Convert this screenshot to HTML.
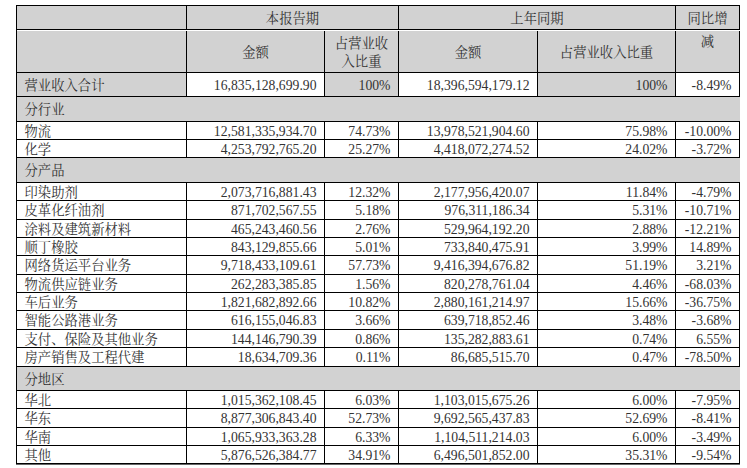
<!DOCTYPE html>
<html lang="zh-CN"><head><meta charset="utf-8"><title>营业收入构成</title>
<style>
html,body{margin:0;padding:0;background:#fff}
#p{position:relative;width:747px;height:468px;overflow:hidden;background:#fff;color:#333;
font-family:"Liberation Serif","Noto Serif CJK SC",serif;font-size:13.33px;line-height:18px}
.r{position:absolute}
.t{position:absolute;display:flex;align-items:center;white-space:nowrap;box-sizing:border-box}
.c{justify-content:center;text-align:center;letter-spacing:0}
.l{justify-content:flex-start;padding-left:7.5px}
.n{justify-content:flex-end;padding-right:7.5px;font-size:13.7px}
</style></head><body><div id="p">
<div class="r" style="left:16px;top:5px;width:724px;height:67px;background:#d2d2d2"></div>
<div class="r" style="left:16px;top:72px;width:170px;height:24px;background:#d2d2d2"></div>
<div class="r" style="left:324px;top:72px;width:74px;height:24px;background:#d2d2d2"></div>
<div class="r" style="left:537px;top:72px;width:138px;height:24px;background:#d2d2d2"></div>
<div class="r" style="left:16px;top:96px;width:724px;height:25px;background:#d2d2d2"></div>
<div class="r" style="left:16px;top:121px;width:170px;height:18px;background:#fff"></div>
<div class="r" style="left:16px;top:139px;width:170px;height:18px;background:#fff"></div>
<div class="r" style="left:16px;top:157px;width:724px;height:25px;background:#d2d2d2"></div>
<div class="r" style="left:16px;top:182px;width:170px;height:18px;background:#fff"></div>
<div class="r" style="left:16px;top:200px;width:170px;height:19px;background:#fff"></div>
<div class="r" style="left:16px;top:219px;width:170px;height:18px;background:#fff"></div>
<div class="r" style="left:16px;top:237px;width:170px;height:18px;background:#fff"></div>
<div class="r" style="left:16px;top:255px;width:170px;height:19px;background:#fff"></div>
<div class="r" style="left:16px;top:274px;width:170px;height:18px;background:#fff"></div>
<div class="r" style="left:16px;top:292px;width:170px;height:18px;background:#fff"></div>
<div class="r" style="left:16px;top:310px;width:170px;height:19px;background:#fff"></div>
<div class="r" style="left:16px;top:329px;width:170px;height:18px;background:#fff"></div>
<div class="r" style="left:16px;top:347px;width:170px;height:19px;background:#fff"></div>
<div class="r" style="left:16px;top:366px;width:724px;height:24px;background:#d2d2d2"></div>
<div class="r" style="left:16px;top:390px;width:170px;height:18px;background:#fff"></div>
<div class="r" style="left:16px;top:408px;width:170px;height:19px;background:#fff"></div>
<div class="r" style="left:16px;top:427px;width:170px;height:18px;background:#fff"></div>
<div class="r" style="left:16px;top:445px;width:170px;height:18px;background:#fff"></div>
<div class="r" style="left:16px;top:5px;width:724px;height:1px;background:#000"></div>
<div class="r" style="left:16px;top:29px;width:724px;height:1px;background:#000"></div>
<div class="r" style="left:16px;top:72px;width:724px;height:1px;background:#000"></div>
<div class="r" style="left:16px;top:96px;width:724px;height:1px;background:#000"></div>
<div class="r" style="left:16px;top:121px;width:724px;height:1px;background:#000"></div>
<div class="r" style="left:16px;top:139px;width:724px;height:1px;background:#000"></div>
<div class="r" style="left:16px;top:157px;width:724px;height:1px;background:#000"></div>
<div class="r" style="left:16px;top:182px;width:724px;height:1px;background:#000"></div>
<div class="r" style="left:16px;top:200px;width:724px;height:1px;background:#000"></div>
<div class="r" style="left:16px;top:219px;width:724px;height:1px;background:#000"></div>
<div class="r" style="left:16px;top:237px;width:724px;height:1px;background:#000"></div>
<div class="r" style="left:16px;top:255px;width:724px;height:1px;background:#000"></div>
<div class="r" style="left:16px;top:274px;width:724px;height:1px;background:#000"></div>
<div class="r" style="left:16px;top:292px;width:724px;height:1px;background:#000"></div>
<div class="r" style="left:16px;top:310px;width:724px;height:1px;background:#000"></div>
<div class="r" style="left:16px;top:329px;width:724px;height:1px;background:#000"></div>
<div class="r" style="left:16px;top:347px;width:724px;height:1px;background:#000"></div>
<div class="r" style="left:16px;top:366px;width:724px;height:1px;background:#000"></div>
<div class="r" style="left:16px;top:390px;width:724px;height:1px;background:#000"></div>
<div class="r" style="left:16px;top:408px;width:724px;height:1px;background:#000"></div>
<div class="r" style="left:16px;top:427px;width:724px;height:1px;background:#000"></div>
<div class="r" style="left:16px;top:445px;width:724px;height:1px;background:#000"></div>
<div class="r" style="left:16px;top:463px;width:724px;height:1px;background:#000"></div>
<div class="r" style="left:16px;top:464px;width:724px;height:1px;background:#666"></div>
<div class="r" style="left:16px;top:30px;width:724px;height:1px;background:#fff"></div>
<div class="r" style="left:16px;top:5px;width:1px;height:459px;background:#000"></div>
<div class="r" style="left:186px;top:5px;width:1px;height:25px;background:#000"></div>
<div class="r" style="left:398px;top:5px;width:1px;height:25px;background:#000"></div>
<div class="r" style="left:675px;top:5px;width:1px;height:25px;background:#000"></div>
<div class="r" style="left:739px;top:5px;width:1px;height:25px;background:#000"></div>
<div class="r" style="left:16px;top:31px;width:1px;height:41px;background:#000"></div>
<div class="r" style="left:186px;top:31px;width:1px;height:41px;background:#000"></div>
<div class="r" style="left:324px;top:31px;width:1px;height:41px;background:#000"></div>
<div class="r" style="left:398px;top:31px;width:1px;height:41px;background:#000"></div>
<div class="r" style="left:537px;top:31px;width:1px;height:41px;background:#000"></div>
<div class="r" style="left:675px;top:31px;width:1px;height:41px;background:#000"></div>
<div class="r" style="left:739px;top:31px;width:1px;height:41px;background:#000"></div>
<div class="r" style="left:186px;top:72px;width:1px;height:25px;background:#000"></div>
<div class="r" style="left:324px;top:72px;width:1px;height:25px;background:#000"></div>
<div class="r" style="left:398px;top:72px;width:1px;height:25px;background:#000"></div>
<div class="r" style="left:537px;top:72px;width:1px;height:25px;background:#000"></div>
<div class="r" style="left:675px;top:72px;width:1px;height:25px;background:#000"></div>
<div class="r" style="left:739px;top:72px;width:1px;height:25px;background:#000"></div>
<div class="r" style="left:186px;top:121px;width:1px;height:19px;background:#000"></div>
<div class="r" style="left:324px;top:121px;width:1px;height:19px;background:#000"></div>
<div class="r" style="left:398px;top:121px;width:1px;height:19px;background:#000"></div>
<div class="r" style="left:537px;top:121px;width:1px;height:19px;background:#000"></div>
<div class="r" style="left:675px;top:121px;width:1px;height:19px;background:#000"></div>
<div class="r" style="left:739px;top:121px;width:1px;height:19px;background:#000"></div>
<div class="r" style="left:186px;top:139px;width:1px;height:19px;background:#000"></div>
<div class="r" style="left:324px;top:139px;width:1px;height:19px;background:#000"></div>
<div class="r" style="left:398px;top:139px;width:1px;height:19px;background:#000"></div>
<div class="r" style="left:537px;top:139px;width:1px;height:19px;background:#000"></div>
<div class="r" style="left:675px;top:139px;width:1px;height:19px;background:#000"></div>
<div class="r" style="left:739px;top:139px;width:1px;height:19px;background:#000"></div>
<div class="r" style="left:186px;top:182px;width:1px;height:19px;background:#000"></div>
<div class="r" style="left:324px;top:182px;width:1px;height:19px;background:#000"></div>
<div class="r" style="left:398px;top:182px;width:1px;height:19px;background:#000"></div>
<div class="r" style="left:537px;top:182px;width:1px;height:19px;background:#000"></div>
<div class="r" style="left:675px;top:182px;width:1px;height:19px;background:#000"></div>
<div class="r" style="left:739px;top:182px;width:1px;height:19px;background:#000"></div>
<div class="r" style="left:186px;top:200px;width:1px;height:20px;background:#000"></div>
<div class="r" style="left:324px;top:200px;width:1px;height:20px;background:#000"></div>
<div class="r" style="left:398px;top:200px;width:1px;height:20px;background:#000"></div>
<div class="r" style="left:537px;top:200px;width:1px;height:20px;background:#000"></div>
<div class="r" style="left:675px;top:200px;width:1px;height:20px;background:#000"></div>
<div class="r" style="left:739px;top:200px;width:1px;height:20px;background:#000"></div>
<div class="r" style="left:186px;top:219px;width:1px;height:19px;background:#000"></div>
<div class="r" style="left:324px;top:219px;width:1px;height:19px;background:#000"></div>
<div class="r" style="left:398px;top:219px;width:1px;height:19px;background:#000"></div>
<div class="r" style="left:537px;top:219px;width:1px;height:19px;background:#000"></div>
<div class="r" style="left:675px;top:219px;width:1px;height:19px;background:#000"></div>
<div class="r" style="left:739px;top:219px;width:1px;height:19px;background:#000"></div>
<div class="r" style="left:186px;top:237px;width:1px;height:19px;background:#000"></div>
<div class="r" style="left:324px;top:237px;width:1px;height:19px;background:#000"></div>
<div class="r" style="left:398px;top:237px;width:1px;height:19px;background:#000"></div>
<div class="r" style="left:537px;top:237px;width:1px;height:19px;background:#000"></div>
<div class="r" style="left:675px;top:237px;width:1px;height:19px;background:#000"></div>
<div class="r" style="left:739px;top:237px;width:1px;height:19px;background:#000"></div>
<div class="r" style="left:186px;top:255px;width:1px;height:20px;background:#000"></div>
<div class="r" style="left:324px;top:255px;width:1px;height:20px;background:#000"></div>
<div class="r" style="left:398px;top:255px;width:1px;height:20px;background:#000"></div>
<div class="r" style="left:537px;top:255px;width:1px;height:20px;background:#000"></div>
<div class="r" style="left:675px;top:255px;width:1px;height:20px;background:#000"></div>
<div class="r" style="left:739px;top:255px;width:1px;height:20px;background:#000"></div>
<div class="r" style="left:186px;top:274px;width:1px;height:19px;background:#000"></div>
<div class="r" style="left:324px;top:274px;width:1px;height:19px;background:#000"></div>
<div class="r" style="left:398px;top:274px;width:1px;height:19px;background:#000"></div>
<div class="r" style="left:537px;top:274px;width:1px;height:19px;background:#000"></div>
<div class="r" style="left:675px;top:274px;width:1px;height:19px;background:#000"></div>
<div class="r" style="left:739px;top:274px;width:1px;height:19px;background:#000"></div>
<div class="r" style="left:186px;top:292px;width:1px;height:19px;background:#000"></div>
<div class="r" style="left:324px;top:292px;width:1px;height:19px;background:#000"></div>
<div class="r" style="left:398px;top:292px;width:1px;height:19px;background:#000"></div>
<div class="r" style="left:537px;top:292px;width:1px;height:19px;background:#000"></div>
<div class="r" style="left:675px;top:292px;width:1px;height:19px;background:#000"></div>
<div class="r" style="left:739px;top:292px;width:1px;height:19px;background:#000"></div>
<div class="r" style="left:186px;top:310px;width:1px;height:20px;background:#000"></div>
<div class="r" style="left:324px;top:310px;width:1px;height:20px;background:#000"></div>
<div class="r" style="left:398px;top:310px;width:1px;height:20px;background:#000"></div>
<div class="r" style="left:537px;top:310px;width:1px;height:20px;background:#000"></div>
<div class="r" style="left:675px;top:310px;width:1px;height:20px;background:#000"></div>
<div class="r" style="left:739px;top:310px;width:1px;height:20px;background:#000"></div>
<div class="r" style="left:186px;top:329px;width:1px;height:19px;background:#000"></div>
<div class="r" style="left:324px;top:329px;width:1px;height:19px;background:#000"></div>
<div class="r" style="left:398px;top:329px;width:1px;height:19px;background:#000"></div>
<div class="r" style="left:537px;top:329px;width:1px;height:19px;background:#000"></div>
<div class="r" style="left:675px;top:329px;width:1px;height:19px;background:#000"></div>
<div class="r" style="left:739px;top:329px;width:1px;height:19px;background:#000"></div>
<div class="r" style="left:186px;top:347px;width:1px;height:20px;background:#000"></div>
<div class="r" style="left:324px;top:347px;width:1px;height:20px;background:#000"></div>
<div class="r" style="left:398px;top:347px;width:1px;height:20px;background:#000"></div>
<div class="r" style="left:537px;top:347px;width:1px;height:20px;background:#000"></div>
<div class="r" style="left:675px;top:347px;width:1px;height:20px;background:#000"></div>
<div class="r" style="left:739px;top:347px;width:1px;height:20px;background:#000"></div>
<div class="r" style="left:186px;top:390px;width:1px;height:19px;background:#000"></div>
<div class="r" style="left:324px;top:390px;width:1px;height:19px;background:#000"></div>
<div class="r" style="left:398px;top:390px;width:1px;height:19px;background:#000"></div>
<div class="r" style="left:537px;top:390px;width:1px;height:19px;background:#000"></div>
<div class="r" style="left:675px;top:390px;width:1px;height:19px;background:#000"></div>
<div class="r" style="left:739px;top:390px;width:1px;height:19px;background:#000"></div>
<div class="r" style="left:186px;top:408px;width:1px;height:20px;background:#000"></div>
<div class="r" style="left:324px;top:408px;width:1px;height:20px;background:#000"></div>
<div class="r" style="left:398px;top:408px;width:1px;height:20px;background:#000"></div>
<div class="r" style="left:537px;top:408px;width:1px;height:20px;background:#000"></div>
<div class="r" style="left:675px;top:408px;width:1px;height:20px;background:#000"></div>
<div class="r" style="left:739px;top:408px;width:1px;height:20px;background:#000"></div>
<div class="r" style="left:186px;top:427px;width:1px;height:19px;background:#000"></div>
<div class="r" style="left:324px;top:427px;width:1px;height:19px;background:#000"></div>
<div class="r" style="left:398px;top:427px;width:1px;height:19px;background:#000"></div>
<div class="r" style="left:537px;top:427px;width:1px;height:19px;background:#000"></div>
<div class="r" style="left:675px;top:427px;width:1px;height:19px;background:#000"></div>
<div class="r" style="left:739px;top:427px;width:1px;height:19px;background:#000"></div>
<div class="r" style="left:186px;top:445px;width:1px;height:19px;background:#000"></div>
<div class="r" style="left:324px;top:445px;width:1px;height:19px;background:#000"></div>
<div class="r" style="left:398px;top:445px;width:1px;height:19px;background:#000"></div>
<div class="r" style="left:537px;top:445px;width:1px;height:19px;background:#000"></div>
<div class="r" style="left:675px;top:445px;width:1px;height:19px;background:#000"></div>
<div class="r" style="left:739px;top:445px;width:1px;height:19px;background:#000"></div>
<div class="t c" style="left:187px;top:7.5px;width:211px;height:23px"><span>本报告期</span></div>
<div class="t c" style="left:399px;top:7.5px;width:276px;height:23px"><span>上年同期</span></div>
<div class="t c" style="left:676px;top:7.5px;width:63px;height:23px"><span>同比增</span></div>
<div class="t c" style="left:187px;top:32px;width:137px;height:41px"><span>金额</span></div>
<div class="t c" style="left:325px;top:32px;width:73px;height:41px"><span>占营业收<br>入比重</span></div>
<div class="t c" style="left:399px;top:32px;width:138px;height:41px"><span>金额</span></div>
<div class="t c" style="left:538px;top:32px;width:137px;height:41px"><span>占营业收入比重</span></div>
<div class="t c" style="left:676px;top:32px;width:63px;height:20px"><span>减</span></div>
<div class="t l" style="left:17px;top:74px;width:169px;height:23px"><span>营业收入合计</span></div>
<div class="t n" style="left:187px;top:74px;width:137px;height:23px"><span>16,835,128,699.90</span></div>
<div class="t n" style="left:325px;top:74px;width:73px;height:23px"><span>100%</span></div>
<div class="t n" style="left:399px;top:74px;width:138px;height:23px"><span>18,396,594,179.12</span></div>
<div class="t n" style="left:538px;top:74px;width:137px;height:23px"><span>100%</span></div>
<div class="t n" style="left:676px;top:74px;width:63px;height:23px"><span>-8.49%</span></div>
<div class="t l" style="left:17px;top:98px;width:169px;height:24px"><span>分行业</span></div>
<div class="t l" style="left:17px;top:123px;width:169px;height:17px"><span>物流</span></div>
<div class="t n" style="left:187px;top:123px;width:137px;height:17px"><span>12,581,335,934.70</span></div>
<div class="t n" style="left:325px;top:123px;width:73px;height:17px"><span>74.73%</span></div>
<div class="t n" style="left:399px;top:123px;width:138px;height:17px"><span>13,978,521,904.60</span></div>
<div class="t n" style="left:538px;top:123px;width:137px;height:17px"><span>75.98%</span></div>
<div class="t n" style="left:676px;top:123px;width:63px;height:17px"><span>-10.00%</span></div>
<div class="t l" style="left:17px;top:141px;width:169px;height:17px"><span>化学</span></div>
<div class="t n" style="left:187px;top:141px;width:137px;height:17px"><span>4,253,792,765.20</span></div>
<div class="t n" style="left:325px;top:141px;width:73px;height:17px"><span>25.27%</span></div>
<div class="t n" style="left:399px;top:141px;width:138px;height:17px"><span>4,418,072,274.52</span></div>
<div class="t n" style="left:538px;top:141px;width:137px;height:17px"><span>24.02%</span></div>
<div class="t n" style="left:676px;top:141px;width:63px;height:17px"><span>-3.72%</span></div>
<div class="t l" style="left:17px;top:159px;width:169px;height:24px"><span>分产品</span></div>
<div class="t l" style="left:17px;top:184px;width:169px;height:17px"><span>印染助剂</span></div>
<div class="t n" style="left:187px;top:184px;width:137px;height:17px"><span>2,073,716,881.43</span></div>
<div class="t n" style="left:325px;top:184px;width:73px;height:17px"><span>12.32%</span></div>
<div class="t n" style="left:399px;top:184px;width:138px;height:17px"><span>2,177,956,420.07</span></div>
<div class="t n" style="left:538px;top:184px;width:137px;height:17px"><span>11.84%</span></div>
<div class="t n" style="left:676px;top:184px;width:63px;height:17px"><span>-4.79%</span></div>
<div class="t l" style="left:17px;top:202px;width:169px;height:18px"><span>皮革化纤油剂</span></div>
<div class="t n" style="left:187px;top:202px;width:137px;height:18px"><span>871,702,567.55</span></div>
<div class="t n" style="left:325px;top:202px;width:73px;height:18px"><span>5.18%</span></div>
<div class="t n" style="left:399px;top:202px;width:138px;height:18px"><span>976,311,186.34</span></div>
<div class="t n" style="left:538px;top:202px;width:137px;height:18px"><span>5.31%</span></div>
<div class="t n" style="left:676px;top:202px;width:63px;height:18px"><span>-10.71%</span></div>
<div class="t l" style="left:17px;top:221px;width:169px;height:17px"><span>涂料及建筑新材料</span></div>
<div class="t n" style="left:187px;top:221px;width:137px;height:17px"><span>465,243,460.56</span></div>
<div class="t n" style="left:325px;top:221px;width:73px;height:17px"><span>2.76%</span></div>
<div class="t n" style="left:399px;top:221px;width:138px;height:17px"><span>529,964,192.20</span></div>
<div class="t n" style="left:538px;top:221px;width:137px;height:17px"><span>2.88%</span></div>
<div class="t n" style="left:676px;top:221px;width:63px;height:17px"><span>-12.21%</span></div>
<div class="t l" style="left:17px;top:239px;width:169px;height:17px"><span>顺丁橡胶</span></div>
<div class="t n" style="left:187px;top:239px;width:137px;height:17px"><span>843,129,855.66</span></div>
<div class="t n" style="left:325px;top:239px;width:73px;height:17px"><span>5.01%</span></div>
<div class="t n" style="left:399px;top:239px;width:138px;height:17px"><span>733,840,475.91</span></div>
<div class="t n" style="left:538px;top:239px;width:137px;height:17px"><span>3.99%</span></div>
<div class="t n" style="left:676px;top:239px;width:63px;height:17px"><span>14.89%</span></div>
<div class="t l" style="left:17px;top:257px;width:169px;height:18px"><span>网络货运平台业务</span></div>
<div class="t n" style="left:187px;top:257px;width:137px;height:18px"><span>9,718,433,109.61</span></div>
<div class="t n" style="left:325px;top:257px;width:73px;height:18px"><span>57.73%</span></div>
<div class="t n" style="left:399px;top:257px;width:138px;height:18px"><span>9,416,394,676.82</span></div>
<div class="t n" style="left:538px;top:257px;width:137px;height:18px"><span>51.19%</span></div>
<div class="t n" style="left:676px;top:257px;width:63px;height:18px"><span>3.21%</span></div>
<div class="t l" style="left:17px;top:276px;width:169px;height:17px"><span>物流供应链业务</span></div>
<div class="t n" style="left:187px;top:276px;width:137px;height:17px"><span>262,283,385.85</span></div>
<div class="t n" style="left:325px;top:276px;width:73px;height:17px"><span>1.56%</span></div>
<div class="t n" style="left:399px;top:276px;width:138px;height:17px"><span>820,278,761.04</span></div>
<div class="t n" style="left:538px;top:276px;width:137px;height:17px"><span>4.46%</span></div>
<div class="t n" style="left:676px;top:276px;width:63px;height:17px"><span>-68.03%</span></div>
<div class="t l" style="left:17px;top:294px;width:169px;height:17px"><span>车后业务</span></div>
<div class="t n" style="left:187px;top:294px;width:137px;height:17px"><span>1,821,682,892.66</span></div>
<div class="t n" style="left:325px;top:294px;width:73px;height:17px"><span>10.82%</span></div>
<div class="t n" style="left:399px;top:294px;width:138px;height:17px"><span>2,880,161,214.97</span></div>
<div class="t n" style="left:538px;top:294px;width:137px;height:17px"><span>15.66%</span></div>
<div class="t n" style="left:676px;top:294px;width:63px;height:17px"><span>-36.75%</span></div>
<div class="t l" style="left:17px;top:312px;width:169px;height:18px"><span>智能公路港业务</span></div>
<div class="t n" style="left:187px;top:312px;width:137px;height:18px"><span>616,155,046.83</span></div>
<div class="t n" style="left:325px;top:312px;width:73px;height:18px"><span>3.66%</span></div>
<div class="t n" style="left:399px;top:312px;width:138px;height:18px"><span>639,718,852.46</span></div>
<div class="t n" style="left:538px;top:312px;width:137px;height:18px"><span>3.48%</span></div>
<div class="t n" style="left:676px;top:312px;width:63px;height:18px"><span>-3.68%</span></div>
<div class="t l" style="left:17px;top:331px;width:169px;height:17px"><span>支付、保险及其他业务</span></div>
<div class="t n" style="left:187px;top:331px;width:137px;height:17px"><span>144,146,790.39</span></div>
<div class="t n" style="left:325px;top:331px;width:73px;height:17px"><span>0.86%</span></div>
<div class="t n" style="left:399px;top:331px;width:138px;height:17px"><span>135,282,883.61</span></div>
<div class="t n" style="left:538px;top:331px;width:137px;height:17px"><span>0.74%</span></div>
<div class="t n" style="left:676px;top:331px;width:63px;height:17px"><span>6.55%</span></div>
<div class="t l" style="left:17px;top:349px;width:169px;height:18px"><span>房产销售及工程代建</span></div>
<div class="t n" style="left:187px;top:349px;width:137px;height:18px"><span>18,634,709.36</span></div>
<div class="t n" style="left:325px;top:349px;width:73px;height:18px"><span>0.11%</span></div>
<div class="t n" style="left:399px;top:349px;width:138px;height:18px"><span>86,685,515.70</span></div>
<div class="t n" style="left:538px;top:349px;width:137px;height:18px"><span>0.47%</span></div>
<div class="t n" style="left:676px;top:349px;width:63px;height:18px"><span>-78.50%</span></div>
<div class="t l" style="left:17px;top:368px;width:169px;height:23px"><span>分地区</span></div>
<div class="t l" style="left:17px;top:392px;width:169px;height:17px"><span>华北</span></div>
<div class="t n" style="left:187px;top:392px;width:137px;height:17px"><span>1,015,362,108.45</span></div>
<div class="t n" style="left:325px;top:392px;width:73px;height:17px"><span>6.03%</span></div>
<div class="t n" style="left:399px;top:392px;width:138px;height:17px"><span>1,103,015,675.26</span></div>
<div class="t n" style="left:538px;top:392px;width:137px;height:17px"><span>6.00%</span></div>
<div class="t n" style="left:676px;top:392px;width:63px;height:17px"><span>-7.95%</span></div>
<div class="t l" style="left:17px;top:410px;width:169px;height:18px"><span>华东</span></div>
<div class="t n" style="left:187px;top:410px;width:137px;height:18px"><span>8,877,306,843.40</span></div>
<div class="t n" style="left:325px;top:410px;width:73px;height:18px"><span>52.73%</span></div>
<div class="t n" style="left:399px;top:410px;width:138px;height:18px"><span>9,692,565,437.83</span></div>
<div class="t n" style="left:538px;top:410px;width:137px;height:18px"><span>52.69%</span></div>
<div class="t n" style="left:676px;top:410px;width:63px;height:18px"><span>-8.41%</span></div>
<div class="t l" style="left:17px;top:429px;width:169px;height:17px"><span>华南</span></div>
<div class="t n" style="left:187px;top:429px;width:137px;height:17px"><span>1,065,933,363.28</span></div>
<div class="t n" style="left:325px;top:429px;width:73px;height:17px"><span>6.33%</span></div>
<div class="t n" style="left:399px;top:429px;width:138px;height:17px"><span>1,104,511,214.03</span></div>
<div class="t n" style="left:538px;top:429px;width:137px;height:17px"><span>6.00%</span></div>
<div class="t n" style="left:676px;top:429px;width:63px;height:17px"><span>-3.49%</span></div>
<div class="t l" style="left:17px;top:447px;width:169px;height:17px"><span>其他</span></div>
<div class="t n" style="left:187px;top:447px;width:137px;height:17px"><span>5,876,526,384.77</span></div>
<div class="t n" style="left:325px;top:447px;width:73px;height:17px"><span>34.91%</span></div>
<div class="t n" style="left:399px;top:447px;width:138px;height:17px"><span>6,496,501,852.00</span></div>
<div class="t n" style="left:538px;top:447px;width:137px;height:17px"><span>35.31%</span></div>
<div class="t n" style="left:676px;top:447px;width:63px;height:17px"><span>-9.54%</span></div>
</div></body></html>
